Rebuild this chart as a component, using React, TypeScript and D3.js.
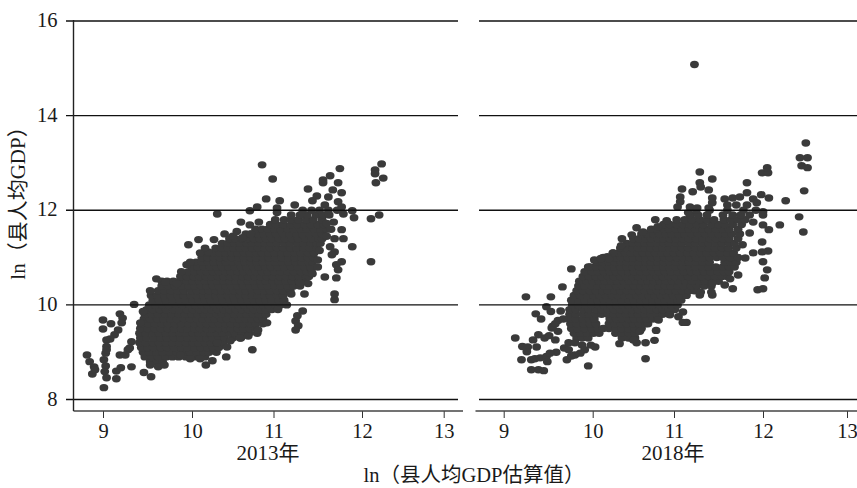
import React, { useRef, useEffect } from "react";
import { select, scaleLinear, axisBottom, axisLeft } from "d3";

const width = 857;
const height = 488;

const xTicks = [9, 10, 11, 12, 13];
const yTicks = [8, 10, 12, 14, 16];
const yTitle = "ln（县人均GDP）";
const xTitle = "ln（县人均GDP估算值）";

// dense part of the cloud, read row by row: [ln GDP, ...ln estimates]
const core2013: number[][] = [
  [8.8, 9.53, 9.6, 9.67],
  [8.9, 9.47, 9.55, 9.62, 9.71, 9.78, 9.85, 9.93, 10.02, 10.09, 10.16],
  [9.0, 9.45, 9.52, 9.6, 9.67, 9.75, 9.83, 9.91, 9.98, 10.06, 10.14, 10.21, 10.3],
  [9.1, 9.43, 9.5, 9.57, 9.65, 9.72, 9.8, 9.88, 9.95, 10.03, 10.11, 10.19, 10.26, 10.33],
  [9.2, 9.41, 9.48, 9.56, 9.63, 9.71, 9.78, 9.86, 9.93, 10.01, 10.08, 10.16, 10.23, 10.31, 10.38],
  [9.3, 9.42, 9.49, 9.57, 9.65, 9.72, 9.8, 9.87, 9.95, 10.02, 10.1, 10.18, 10.25, 10.33, 10.4, 10.5, 10.6],
  [9.4, 9.41, 9.48, 9.56, 9.63, 9.71, 9.78, 9.86, 9.93, 10.01, 10.08, 10.16, 10.23, 10.31, 10.38, 10.46, 10.53, 10.61, 10.7, 10.8],
  [9.5, 9.42, 9.5, 9.58, 9.65, 9.73, 9.8, 9.88, 9.95, 10.03, 10.1, 10.18, 10.25, 10.33, 10.41, 10.48, 10.56, 10.63, 10.71, 10.78],
  [9.6, 9.43, 9.51, 9.58, 9.66, 9.73, 9.81, 9.88, 9.96, 10.03, 10.11, 10.18, 10.26, 10.33, 10.41, 10.48, 10.56, 10.63, 10.71, 10.78, 10.87],
  [9.7, 9.46, 9.53, 9.61, 9.68, 9.76, 9.83, 9.91, 9.98, 10.06, 10.13, 10.21, 10.28, 10.36, 10.43, 10.51, 10.58, 10.66, 10.73, 10.81, 10.87],
  [9.8, 9.47, 9.55, 9.62, 9.7, 9.77, 9.85, 9.92, 10.0, 10.07, 10.15, 10.22, 10.3, 10.37, 10.45, 10.52, 10.6, 10.67, 10.75, 10.82, 10.91],
  [9.9, 9.49, 9.56, 9.64, 9.71, 9.79, 9.86, 9.94, 10.01, 10.09, 10.16, 10.24, 10.31, 10.39, 10.46, 10.54, 10.61, 10.69, 10.76, 10.84, 10.91, 10.98],
  [10.0, 9.52, 9.59, 9.67, 9.74, 9.82, 9.89, 9.97, 10.04, 10.12, 10.19, 10.27, 10.34, 10.42, 10.49, 10.57, 10.64, 10.72, 10.79, 10.87, 10.94, 11.02, 11.08],
  [10.1, 9.56, 9.63, 9.71, 9.78, 9.86, 9.93, 10.01, 10.08, 10.16, 10.23, 10.31, 10.38, 10.46, 10.53, 10.61, 10.68, 10.76, 10.83, 10.91, 10.98, 11.06, 11.12],
  [10.2, 9.54, 9.61, 9.69, 9.76, 9.84, 9.91, 9.99, 10.06, 10.14, 10.21, 10.29, 10.36, 10.44, 10.51, 10.59, 10.66, 10.74, 10.81, 10.89, 10.96, 11.04, 11.11],
  [10.3, 9.62, 9.69, 9.76, 9.84, 9.91, 9.99, 10.06, 10.14, 10.21, 10.29, 10.36, 10.44, 10.51, 10.59, 10.66, 10.74, 10.81, 10.89, 10.96, 11.04, 11.11, 11.19],
  [10.4, 9.66, 9.73, 9.81, 9.88, 9.96, 10.03, 10.11, 10.18, 10.26, 10.33, 10.41, 10.48, 10.56, 10.63, 10.71, 10.78, 10.86, 10.93, 11.01, 11.08, 11.16, 11.23, 11.3],
  [10.5, 9.72, 9.79, 9.86, 9.94, 10.01, 10.09, 10.16, 10.24, 10.31, 10.39, 10.46, 10.54, 10.61, 10.69, 10.76, 10.84, 10.91, 10.99, 11.06, 11.14, 11.21, 11.29, 11.36],
  [10.6, 9.87, 9.94, 10.02, 10.09, 10.17, 10.24, 10.32, 10.39, 10.47, 10.54, 10.62, 10.69, 10.77, 10.84, 10.92, 10.99, 11.07, 11.14, 11.22, 11.29, 11.37, 11.4],
  [10.7, 9.96, 10.03, 10.11, 10.18, 10.26, 10.33, 10.41, 10.48, 10.56, 10.63, 10.71, 10.78, 10.86, 10.93, 11.01, 11.08, 11.16, 11.23, 11.31, 11.38, 11.43],
  [10.8, 10.0, 10.07, 10.15, 10.22, 10.3, 10.37, 10.45, 10.52, 10.6, 10.67, 10.75, 10.82, 10.9, 10.97, 11.05, 11.12, 11.2, 11.27, 11.35, 11.42],
  [10.9, 10.05, 10.12, 10.2, 10.27, 10.35, 10.42, 10.5, 10.57, 10.65, 10.72, 10.8, 10.87, 10.95, 11.02, 11.1, 11.17, 11.25, 11.32, 11.4, 11.44],
  [11.0, 10.12, 10.19, 10.27, 10.34, 10.42, 10.49, 10.57, 10.64, 10.72, 10.79, 10.87, 10.94, 11.02, 11.09, 11.17, 11.24, 11.32, 11.39, 11.45],
  [11.1, 10.19, 10.26, 10.34, 10.41, 10.49, 10.56, 10.64, 10.71, 10.79, 10.86, 10.94, 11.01, 11.09, 11.16, 11.24, 11.31, 11.39, 11.46],
  [11.2, 10.29, 10.36, 10.44, 10.51, 10.59, 10.66, 10.74, 10.81, 10.89, 10.96, 11.04, 11.11, 11.19, 11.26, 11.34, 11.41, 11.49],
  [11.3, 10.37, 10.44, 10.52, 10.59, 10.67, 10.74, 10.82, 10.89, 10.97, 11.04, 11.12, 11.19, 11.27, 11.34, 11.42, 11.49, 11.53],
  [11.4, 10.46, 10.53, 10.61, 10.68, 10.76, 10.83, 10.91, 10.98, 11.06, 11.13, 11.21, 11.28, 11.36, 11.43, 11.51, 11.55],
  [11.5, 10.66, 10.73, 10.81, 10.88, 10.96, 11.03, 11.11, 11.18, 11.26, 11.33, 11.41, 11.48, 11.55],
  [11.6, 10.78, 10.86, 10.93, 11.01, 11.08, 11.16, 11.23, 11.31, 11.38, 11.46, 11.53, 11.6],
  [11.7, 10.96, 11.03, 11.11, 11.2, 11.27, 11.35, 11.42, 11.5, 11.57],
  [11.8, 11.02, 11.12, 11.2, 11.28, 11.37, 11.45, 11.55],
  [11.9, 11.2, 11.3, 11.38, 11.48, 11.56],
  [12.0, 11.33, 11.43, 11.52],
];

// points that stand apart from the dense part: [ln estimate, ln GDP]
const scatter2013: number[][] = [
  [8.82, 8.94], [8.85, 8.8], [8.9, 8.69], [8.88, 8.54], [8.91, 8.63], [9.0, 9.68], [9.09, 9.6], [9.0, 9.49],
  [9.19, 9.81], [9.22, 9.72], [9.21, 9.62], [9.17, 9.47], [9.13, 9.37], [9.08, 9.28], [9.04, 9.26], [9.04, 9.12],
  [9.03, 8.98], [9.01, 8.84], [9.03, 8.71], [9.02, 8.59], [9.04, 8.46], [9.01, 8.25], [9.15, 8.44], [9.15, 8.6],
  [9.2, 8.67], [9.32, 8.69], [9.19, 8.94], [9.25, 8.94], [9.28, 9.05], [9.32, 9.22], [9.3, 9.09], [9.35, 10.01],
  [9.45, 9.86], [9.42, 9.62], [9.54, 8.48], [9.46, 8.57], [9.53, 8.73], [9.62, 8.69], [9.69, 8.73], [9.04, 9.05],
  [9.98, 8.86], [10.1, 8.86], [10.17, 8.73], [10.25, 8.82], [9.87, 8.94], [10.31, 9.2], [10.47, 9.24], [10.43, 9.11],
  [10.42, 8.9], [10.74, 9.05], [10.59, 9.3], [10.69, 9.34], [10.81, 9.47], [10.92, 9.62],
  [9.53, 10.3], [9.6, 10.55], [9.66, 10.5], [9.7, 10.48], [9.83, 10.45], [9.88, 10.7], [9.94, 10.85], [9.98, 10.9],
  [9.96, 11.27], [10.08, 11.38], [10.1, 11.1], [10.2, 11.12], [10.16, 11.2], [10.31, 11.92], [10.27, 11.38],
  [10.5, 11.45], [10.4, 11.5], [10.55, 11.55], [10.62, 11.42], [10.72, 11.5],
  [10.86, 12.96], [10.99, 12.66], [11.75, 12.88], [11.64, 12.73], [11.56, 12.64], [11.56, 12.58], [11.73, 12.58],
  [11.39, 12.45], [11.67, 12.43], [11.77, 12.37], [11.49, 12.3], [11.62, 12.28], [11.44, 12.2], [11.73, 12.18],
  [11.58, 12.11], [11.77, 12.07], [11.79, 11.92], [10.91, 12.24], [11.07, 12.2], [10.8, 12.07], [11.04, 12.05],
  [11.24, 12.11], [10.71, 11.99], [11.04, 11.95], [11.89, 11.99], [11.91, 11.84], [12.11, 11.82], [12.21, 11.9],
  [10.6, 11.75], [10.71, 11.69], [10.82, 11.75], [12.24, 12.98], [12.16, 12.85], [12.16, 12.77], [12.26, 12.68],
  [12.17, 12.58], [11.77, 11.59], [11.69, 11.4], [11.79, 11.4], [11.89, 11.23], [11.64, 11.23], [11.69, 11.12],
  [11.66, 11.06], [11.77, 10.91], [11.71, 10.85], [11.73, 10.74], [11.71, 10.57], [11.58, 10.59], [12.11, 10.91],
  [11.44, 10.66], [11.39, 10.45], [11.3, 10.46], [11.35, 10.23], [11.2, 10.23], [11.69, 10.23], [11.69, 10.11],
  [11.33, 9.87], [11.27, 9.77], [11.25, 9.66], [11.28, 9.56], [11.25, 9.47], [11.15, 10.0], [11.05, 9.9],
  [11.63, 11.9], [11.68, 11.75], [11.65, 11.6], [11.6, 11.45], [11.52, 11.15], [11.5, 10.95], [11.5, 10.8],
  [11.62, 12.0], [11.72, 12.0], [11.6, 11.72],
];

const core2018: number[][] = [
  [9.3, 9.82, 9.88, 9.95, 10.36, 10.44, 10.52],
  [9.4, 9.79, 9.86, 9.94, 10.01, 10.08, 10.28, 10.36, 10.44, 10.52],
  [9.5, 9.76, 9.83, 9.91, 9.99, 10.06, 10.13, 10.2, 10.28, 10.36, 10.44, 10.52, 10.6],
  [9.6, 9.75, 9.82, 9.9, 9.97, 10.04, 10.2, 10.27, 10.35, 10.42, 10.5, 10.57, 10.65, 10.68],
  [9.7, 9.74, 9.81, 9.89, 9.96, 10.02, 10.21, 10.29, 10.36, 10.44, 10.51, 10.59, 10.66, 10.74, 10.8],
  [9.8, 9.74, 9.81, 9.89, 9.96, 10.04, 10.11, 10.19, 10.26, 10.34, 10.41, 10.49, 10.56, 10.64, 10.71, 10.79, 10.86, 10.94],
  [9.9, 9.74, 9.81, 9.89, 9.96, 10.04, 10.11, 10.19, 10.26, 10.34, 10.41, 10.49, 10.56, 10.64, 10.71, 10.79, 10.86, 10.94, 11.01],
  [10.0, 9.77, 9.84, 9.92, 9.99, 10.07, 10.14, 10.22, 10.29, 10.37, 10.44, 10.52, 10.59, 10.67, 10.74, 10.82, 10.89, 10.97, 11.04],
  [10.1, 9.76, 9.84, 9.91, 9.99, 10.06, 10.14, 10.21, 10.29, 10.36, 10.44, 10.51, 10.59, 10.66, 10.74, 10.81, 10.89, 10.96, 11.04, 11.08],
  [10.2, 9.79, 9.86, 9.94, 10.01, 10.09, 10.16, 10.24, 10.31, 10.39, 10.46, 10.54, 10.61, 10.69, 10.76, 10.84, 10.91, 10.99, 11.06, 11.14],
  [10.3, 9.82, 9.89, 9.97, 10.04, 10.12, 10.19, 10.27, 10.34, 10.42, 10.49, 10.57, 10.64, 10.72, 10.79, 10.87, 10.94, 11.02, 11.09, 11.17, 11.23],
  [10.4, 9.84, 9.91, 9.99, 10.06, 10.14, 10.21, 10.29, 10.36, 10.44, 10.51, 10.59, 10.66, 10.74, 10.81, 10.89, 10.96, 11.04, 11.11, 11.19, 11.26, 11.34, 11.42],
  [10.5, 9.85, 9.93, 10.0, 10.08, 10.15, 10.23, 10.3, 10.38, 10.45, 10.53, 10.6, 10.68, 10.75, 10.83, 10.9, 10.98, 11.05, 11.13, 11.2, 11.28, 11.35, 11.43, 11.5],
  [10.6, 9.89, 9.96, 10.04, 10.11, 10.19, 10.26, 10.34, 10.41, 10.49, 10.56, 10.64, 10.71, 10.79, 10.86, 10.94, 11.01, 11.09, 11.16, 11.24, 11.31, 11.39, 11.46, 11.54, 11.6],
  [10.7, 9.91, 9.99, 10.06, 10.14, 10.21, 10.29, 10.36, 10.44, 10.51, 10.59, 10.66, 10.74, 10.81, 10.89, 10.96, 11.04, 11.11, 11.19, 11.26, 11.34, 11.41, 11.49, 11.56, 11.62],
  [10.8, 9.97, 10.04, 10.12, 10.19, 10.27, 10.34, 10.42, 10.49, 10.57, 10.64, 10.72, 10.79, 10.87, 10.94, 11.02, 11.09, 11.17, 11.24, 11.32, 11.39, 11.47, 11.55, 11.62, 11.68],
  [10.9, 10.05, 10.12, 10.2, 10.27, 10.35, 10.42, 10.5, 10.57, 10.65, 10.72, 10.8, 10.87, 10.95, 11.02, 11.1, 11.17, 11.25, 11.32, 11.4, 11.57, 11.64, 11.7],
  [11.0, 10.13, 10.2, 10.28, 10.35, 10.43, 10.5, 10.58, 10.65, 10.73, 10.8, 10.88, 10.95, 11.03, 11.1, 11.18, 11.25, 11.33, 11.4, 11.48, 11.55, 11.63, 11.72],
  [11.1, 10.25, 10.32, 10.4, 10.47, 10.55, 10.62, 10.7, 10.77, 10.85, 10.92, 11.0, 11.07, 11.15, 11.22, 11.3, 11.37, 11.45, 11.52, 11.6, 11.67],
  [11.2, 10.34, 10.41, 10.49, 10.56, 10.64, 10.71, 10.79, 10.86, 10.94, 11.01, 11.09, 11.16, 11.24, 11.31, 11.39, 11.46, 11.54, 11.61, 11.7],
  [11.3, 10.42, 10.49, 10.57, 10.64, 10.72, 10.79, 10.87, 10.94, 11.02, 11.09, 11.17, 11.24, 11.32, 11.39, 11.47, 11.54, 11.62, 11.68],
  [11.4, 10.5, 10.57, 10.65, 10.72, 10.8, 10.87, 10.95, 11.02, 11.1, 11.17, 11.25, 11.32, 11.4, 11.47, 11.55, 11.62, 11.72],
  [11.5, 10.6, 10.67, 10.75, 10.82, 10.9, 10.97, 11.05, 11.12, 11.2, 11.27, 11.35, 11.42, 11.5, 11.58, 11.65, 11.74],
  [11.6, 10.72, 10.79, 10.87, 10.94, 11.02, 11.09, 11.17, 11.24, 11.32, 11.39, 11.47, 11.55, 11.62, 11.72],
  [11.7, 10.87, 10.95, 11.03, 11.1, 11.18, 11.26, 11.33, 11.42, 11.5, 11.57, 11.66, 11.76],
  [11.8, 11.03, 11.12, 11.2, 11.29, 11.37, 11.45, 11.56, 11.64, 11.72, 11.8],
  [11.9, 11.18, 11.27, 11.37, 11.55, 11.66, 11.75, 11.85],
  [12.0, 11.25, 11.4, 11.6, 11.78, 11.92],
];

const scatter2018: number[][] = [
  [11.23, 15.08],
  [9.13, 9.3], [9.2, 8.84], [9.21, 9.12], [9.27, 9.11], [9.26, 9.01], [9.31, 8.84], [9.37, 9.11], [9.33, 9.26],
  [9.39, 9.37], [9.46, 9.3], [9.51, 9.35], [9.58, 9.26], [9.54, 9.51], [9.61, 9.44], [9.55, 9.55], [9.61, 9.67],
  [9.67, 9.7], [9.58, 9.6], [9.64, 9.87], [9.42, 9.7], [9.36, 9.81], [9.48, 9.96], [9.53, 9.86], [9.25, 10.17],
  [9.53, 10.17], [9.66, 10.38], [9.76, 10.76], [9.31, 8.63], [9.39, 8.63], [9.45, 8.61], [9.35, 8.86], [9.41, 8.88],
  [9.48, 8.91], [9.49, 8.8], [9.59, 9.0], [9.52, 8.98], [9.71, 8.84], [9.68, 9.09], [9.73, 9.2], [9.8, 9.2],
  [9.88, 9.15], [9.91, 9.05], [9.86, 8.98], [9.8, 8.94], [9.73, 9.05], [9.76, 8.92], [9.95, 8.71], [9.98, 9.15],
  [10.03, 9.11], [10.33, 9.18], [10.54, 9.2], [10.65, 9.2], [10.76, 9.25], [10.65, 8.86], [10.78, 9.46], [11.14, 9.63],
  [11.05, 9.75], [10.95, 9.79], [11.1, 9.85], [10.5, 9.26], [10.58, 9.44], [10.81, 9.68],
  [11.1, 9.63], [11.29, 10.21], [11.43, 10.21], [11.3, 10.27], [11.42, 10.27], [11.66, 10.34], [11.57, 10.42],
  [11.43, 10.46], [11.94, 10.32], [12.0, 10.34], [12.02, 10.57], [12.05, 10.74], [12.0, 10.91], [12.06, 11.14],
  [11.99, 11.12], [11.89, 11.1], [11.99, 11.33], [11.8, 10.99], [11.77, 11.27], [11.85, 11.52], [11.72, 10.63],
  [11.63, 10.55], [12.07, 11.59], [12.0, 11.69], [12.2, 11.69], [12.48, 11.54], [12.43, 11.86], [12.27, 12.2],
  [12.49, 12.41], [12.07, 12.26], [11.98, 12.33], [11.82, 12.58], [11.82, 12.37], [12.05, 12.81], [11.99, 12.79],
  [12.06, 12.79], [12.05, 12.9], [12.44, 13.11], [12.53, 13.11], [12.51, 13.42], [12.46, 12.94], [12.53, 12.9],
  [11.29, 12.81], [11.43, 12.66], [11.29, 12.58], [11.3, 12.49], [11.21, 12.39], [11.39, 12.43], [11.09, 12.45],
  [11.07, 12.28], [11.07, 12.18], [11.04, 12.07], [11.43, 12.26], [11.43, 12.16], [11.57, 12.24], [11.66, 12.26],
  [11.74, 12.28], [11.89, 12.24], [11.93, 12.16], [11.6, 12.11], [11.7, 12.11], [11.82, 12.11], [11.26, 12.05],
  [11.18, 12.07], [11.39, 12.05], [12.0, 11.97], [12.0, 11.9], [11.89, 11.75], [11.16, 11.95],
  [10.77, 11.8], [10.91, 11.78], [10.54, 11.63], [10.36, 11.4], [10.48, 11.48], [10.62, 11.54], [10.8, 11.65],
  [10.25, 11.1], [10.18, 11.02], [10.35, 11.25], [10.2, 10.97], [10.02, 10.95], [10.1, 10.98], [9.95, 10.8],
];

const toPoints = (core: number[][], scatter: number[][]) => [
  ...core.flatMap(([y, ...xs]) => xs.map((x) => [x, y])),
  ...scatter,
];

const panels = [
  {
    label: "2013年",
    points: toPoints(core2013, scatter2013),
    tickRange: [103, 192, 273.5, 362, 443.7],
    axisEnds: [73.5, 463],
    gridEnds: [66, 458],
    labelX: 268,
  },
  {
    label: "2018年",
    points: toPoints(core2018, scatter2018),
    tickRange: [503.7, 592.7, 674, 763, 847],
    axisEnds: [475.5, 857],
    gridEnds: [479, 857],
    labelX: 673,
  },
];

const serif = "'Liberation Serif', 'Noto Sans CJK SC', serif";
const axisY = 411;

const App = () => {
  const ref = useRef<SVGSVGElement>(null);

  useEffect(() => {
    const svg = select(ref.current);
    svg.selectAll("*").remove();

    const yScale = scaleLinear().domain([8, 16]).range([399.5, 21]);

    panels.forEach((p) => {
      // the printed ticks are not quite evenly spaced, so the scale goes through each of them
      const xScale = scaleLinear().domain(xTicks).range(p.tickRange);
      const g = svg.append("g");

      g.selectAll("ellipse")
        .data(p.points)
        .enter()
        .append("ellipse")
        .attr("cx", (d) => xScale(d[0]))
        .attr("cy", (d) => yScale(d[1]))
        .attr("rx", 4.4)
        .attr("ry", 3.7)
        .attr("fill", "#3a3a3a");

      g.selectAll(".grid")
        .data(yTicks)
        .enter()
        .append("line")
        .attr("class", "grid")
        .attr("x1", p.gridEnds[0])
        .attr("x2", p.gridEnds[1])
        .attr("y1", (d) => yScale(d))
        .attr("y2", (d) => yScale(d))
        .attr("stroke", "#111")
        .attr("stroke-width", 1.3);

      const xAxisG = g
        .append("g")
        .attr("transform", `translate(0,${axisY})`)
        .call(
          axisBottom(xScale)
            .tickValues(xTicks)
            .tickFormat((d) => String(d))
            .tickSize(7)
            .tickPadding(5)
        );
      xAxisG.select(".domain").remove();
      xAxisG
        .append("line")
        .attr("x1", p.axisEnds[0])
        .attr("x2", p.axisEnds[1])
        .attr("stroke", "#444")
        .attr("stroke-width", 1.3);
      xAxisG.selectAll(".tick line").attr("stroke", "#333").attr("stroke-width", 1);
      xAxisG
        .selectAll("text")
        .attr("fill", "#1a1a1a")
        .attr("font-family", serif)
        .attr("font-size", 20.5);

      g.append("text")
        .attr("x", p.labelX)
        .attr("y", 460)
        .attr("text-anchor", "middle")
        .attr("fill", "#1a1a1a")
        .attr("font-family", serif)
        .attr("font-size", 21)
        .text(p.label);
    });

    const yAxisG = svg
      .append("g")
      .attr("transform", "translate(73.5,0)")
      .call(
        axisLeft(yScale)
          .tickValues(yTicks)
          .tickFormat((d) => String(d))
          .tickSize(0)
          .tickPadding(16)
      );
    yAxisG.select(".domain").remove();
    yAxisG
      .append("line")
      .attr("y1", 20)
      .attr("y2", axisY)
      .attr("stroke", "#222")
      .attr("stroke-width", 1.4);
    yAxisG
      .selectAll("text")
      .attr("fill", "#1a1a1a")
      .attr("font-family", serif)
      .attr("font-size", 20.5)
      .attr("dy", "0.27em");

    svg
      .append("text")
      .attr("transform", "translate(25,198) rotate(-90)")
      .attr("text-anchor", "middle")
      .attr("fill", "#1a1a1a")
      .attr("font-family", serif)
      .attr("font-size", 21)
      .text(yTitle);

    svg
      .append("text")
      .attr("x", 474)
      .attr("y", 482)
      .attr("text-anchor", "middle")
      .attr("fill", "#1a1a1a")
      .attr("font-family", serif)
      .attr("font-size", 20.5)
      .text(xTitle);
  }, []);

  return (
    <svg
      ref={ref}
      width={width}
      height={height}
      style={{ position: "absolute", left: 0, top: 0, background: "#fff" }}
    />
  );
};

export default App;
